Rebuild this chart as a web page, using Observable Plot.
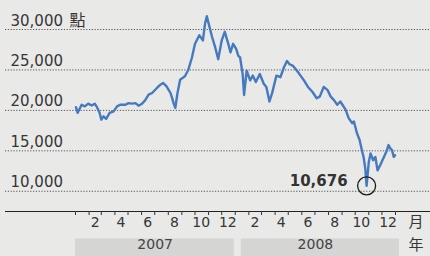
<!DOCTYPE html>
<html>
<head>
<meta charset="utf-8">
<script src="https://cdn.jsdelivr.net/npm/d3@7"></script>
<script src="https://cdn.jsdelivr.net/npm/@observablehq/plot@0.6"></script>
<style>
  html, body { margin: 0; padding: 0; background: #e9e9e7; }
  #chart { width: 430px; height: 256px; overflow: hidden; }
</style>
</head>
<body>
<div id="chart"></div>
<script>
// Hang Seng Index closes
const dates = [
  "2007-01-02","2007-01-06","2007-01-15","2007-01-22","2007-01-30","2007-02-07","2007-02-14","2007-02-18",
  "2007-02-25","2007-03-01","2007-03-06","2007-03-12","2007-03-20","2007-03-29","2007-04-06","2007-04-13",
  "2007-04-25","2007-05-02","2007-05-10","2007-05-18","2007-05-25","2007-06-02","2007-06-09","2007-06-17",
  "2007-06-25","2007-07-06","2007-07-14","2007-07-20","2007-07-28","2007-08-06","2007-08-10","2007-08-13",
  "2007-08-17","2007-08-22","2007-08-28","2007-09-08","2007-09-16","2007-09-24","2007-10-01","2007-10-11",
  "2007-10-19","2007-10-24","2007-10-28","2007-11-03","2007-11-09","2007-11-16","2007-11-23","2007-12-01",
  "2007-12-08","2007-12-16","2007-12-21","2007-12-27","2008-01-03","2008-01-08","2008-01-12","2008-01-18",
  "2008-01-21","2008-01-27","2008-02-04","2008-02-10","2008-02-17","2008-02-26","2008-03-06","2008-03-12",
  "2008-03-19","2008-03-25","2008-04-04","2008-04-13","2008-04-21","2008-04-28","2008-05-04","2008-05-12",
  "2008-05-21","2008-05-29","2008-06-06","2008-06-15","2008-06-25","2008-07-05","2008-07-12","2008-07-21",
  "2008-07-30","2008-08-06","2008-08-13","2008-08-21","2008-08-28","2008-09-09","2008-09-16","2008-09-24",
  "2008-09-28","2008-10-05","2008-10-11","2008-10-17","2008-10-20","2008-10-24","2008-10-26","2008-10-27",
  "2008-11-01","2008-11-05","2008-11-11","2008-11-16","2008-11-21","2008-11-27","2008-12-04","2008-12-11",
  "2008-12-16","2008-12-20","2008-12-24","2008-12-28","2008-12-31"
];
const values = [
  20400,19700,20700,20500,20830,20600,20830,20500,
  19700,18850,19260,18940,19680,19880,20500,20700,
  20700,20900,20830,20900,20580,20830,21240,21940,
  22150,22770,23180,23390,22970,22150,21480,20900,
  20300,22150,23800,24220,25060,26540,28230,29280,
  28650,30760,31640,30340,29070,27810,26330,28650,
  29710,28230,27180,28230,27600,26730,26540,24430,
  21900,24900,23700,24300,23500,24500,23300,22900,
  21100,22100,24300,24100,25300,26100,25700,25500,
  24900,24300,23700,22900,22300,21500,21700,22900,
  22500,21700,21300,20700,21100,20090,19050,18420,
  18630,17170,16340,14880,14250,12800,11340,10676,
  13630,14670,13840,14250,12590,13210,14050,14880,
  15710,15300,15090,14250,14460
];

const yTicks = [10000, 15000, 20000, 25000, 30000];
const yTickLabels = ["10,000", "15,000", "20,000", "25,000", "30,000"];
const yUnit = "點";
const monthLabels = ["2", "4", "6", "8", "10", "12"];
const years = [2007, 2008];
const yearLabels = ["2007", "2008"];
const lowDate = "2008-10-27";
const lowValue = 10676;
const lowLabel = "10,676";
const monthUnit = "月";
const yearUnit = "年";

// tables built from the arrays
const series = dates.map((d, i) => ({date: new Date(d), value: values[i]}));
const yTable = yTicks.map((v, i) => ({v, label: yTickLabels[i]}));
const yTop = [{v: yTicks[yTicks.length - 1], label: yUnit}];
const monthRows = years.flatMap(yr => monthLabels.map(m => ({date: new Date(Date.UTC(yr, +m - 1, 15)), text: m})));
const yearRows = years.map((yr, i) => ({
  start: new Date(Date.UTC(yr, 0, 1)),
  end: new Date(Date.UTC(yr + 1, 0, 1)),
  mid: new Date(Date.UTC(yr, 6, 2)),
  text: yearLabels[i]
}));
const monthTicks = d3.utcMonth.range(new Date(Date.UTC(years[0], 0, 1)), new Date(Date.UTC(years[years.length - 1] + 1, 0, 2)));
const low = [{date: new Date(lowDate), value: lowValue, text: lowLabel}];
const yMin = 7500;

const ink = "#363636";
const cjk = "'Noto Sans CJK TC', 'Noto Sans CJK SC', sans-serif";

const chart = Plot.plot({
  width: 430,
  height: 256,
  marginLeft: 75,
  marginRight: 35,
  marginTop: 29,
  marginBottom: 45,
  style: {fontFamily: "'DejaVu Sans', sans-serif", fontSize: "15px", background: "#e9e9e7", color: ink, overflow: "visible"},
  x: {type: "utc", domain: [new Date(Date.UTC(years[0], 0, 1)), new Date(Date.UTC(years[years.length - 1] + 1, 0, 1))], axis: null},
  y: {domain: [yMin, 30000], axis: null},
  marks: [
    // year bands
    Plot.ruleY(yearRows.slice(0, 1), {y: () => yMin, x1: "start", x2: "end", dy: 36, strokeWidth: 18, stroke: "#d5d5d3", insetRight: 1}),
    Plot.ruleY(yearRows.slice(1), {y: () => yMin, x1: "start", x2: "end", dy: 36, strokeWidth: 18, stroke: "#d5d5d3", insetLeft: 6, insetRight: -4}),
    Plot.text(yearRows, {x: "mid", text: "text", frameAnchor: "bottom", dy: 37, fontSize: 14, fill: "#444"}),
    // grid
    Plot.ruleY(yTicks, {stroke: "#555", strokeDasharray: "1.2,1.6", strokeWidth: 1, insetLeft: -70, insetRight: -35}),
    Plot.text(yTable, {y: "v", text: "label", frameAnchor: "left", dx: -65, dy: -4, textAnchor: "start", lineAnchor: "bottom", fill: ink, fontSize: 15}),
    Plot.text(yTop, {y: "v", text: "label", frameAnchor: "left", dx: -6, dy: -4, textAnchor: "start", lineAnchor: "bottom", fill: ink, fontSize: 16, fontFamily: cjk}),
    // x axis line and ticks
    Plot.ruleY([yMin], {stroke: "#222", strokeWidth: 1.2, insetLeft: -70, insetRight: -35}),
    Plot.axisX({ticks: monthTicks, tickSize: 4, tickFormat: () => "", label: null, stroke: "#333"}),
    Plot.text(monthRows, {x: "date", text: "text", frameAnchor: "bottom", dy: 15.5, fontSize: 14, fill: ink}),
    Plot.text([monthUnit], {text: d => d, frameAnchor: "bottom-right", dx: 28, dy: 15.5, fontSize: 15, fill: ink, fontFamily: cjk}),
    Plot.text([yearUnit], {text: d => d, frameAnchor: "bottom-right", dx: 28, dy: 38, fontSize: 15, fill: ink, fontFamily: cjk}),
    // series
    Plot.line(series, {x: "date", y: "value", stroke: "#4679be", strokeWidth: 2.4, strokeLinejoin: "round"}),
    // low annotation
    Plot.dot(low, {x: "date", y: "value", r: 9, stroke: "#1a1a1a", fill: "none", strokeWidth: 1.3}),
    Plot.text(low, {x: "date", y: "value", text: "text", textAnchor: "end", lineAnchor: "bottom", dx: -19, dy: 0, fontWeight: "bold", fontSize: 15, fill: "#333"})
  ]
});
document.getElementById("chart").appendChild(chart);
</script>
</body>
</html>
